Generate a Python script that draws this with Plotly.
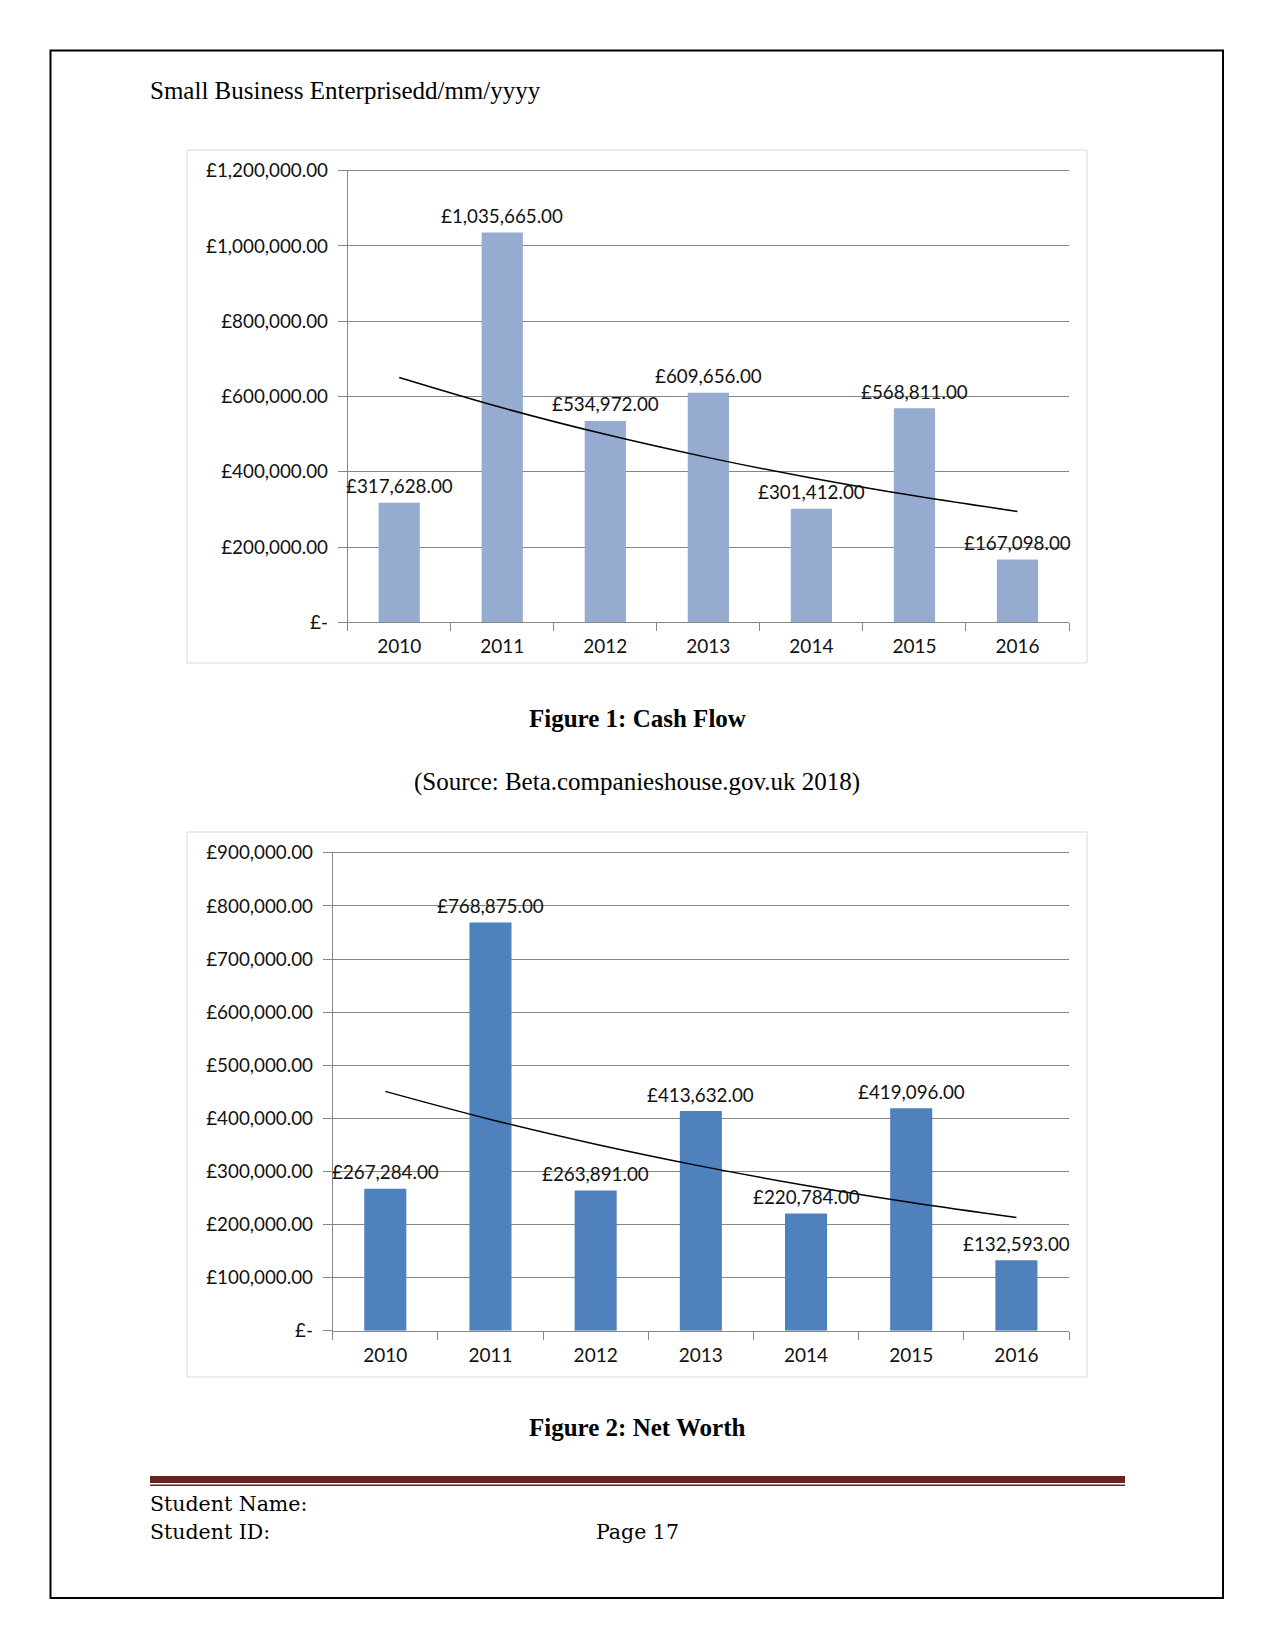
import numpy as np
import plotly.graph_objects as go

# ---------------- data ----------------
years = ["2010", "2011", "2012", "2013", "2014", "2015", "2016"]
cash_flow = [317628, 1035665, 534972, 609656, 301412, 568811, 167098]
net_worth = [267284, 768875, 263891, 413632, 220784, 419096, 132593]

cf_ticks = [0, 200000, 400000, 600000, 800000, 1000000, 1200000]
cf_ticktext = ["£-", "£200,000.00", "£400,000.00", "£600,000.00",
               "£800,000.00", "£1,000,000.00", "£1,200,000.00"]
nw_ticks = [0, 100000, 200000, 300000, 400000, 500000, 600000, 700000, 800000, 900000]
nw_ticktext = ["£-", "£100,000.00", "£200,000.00", "£300,000.00", "£400,000.00",
               "£500,000.00", "£600,000.00", "£700,000.00", "£800,000.00", "£900,000.00"]

W, H = 1275, 1650
OFF = 8  # browser body margin


def px(x):
    return (x - OFF) / W


def py(y):
    return 1 - (y - OFF) / H


def exp_trend(vals):
    idx = np.arange(len(vals))
    b, a = np.polyfit(idx, np.log(vals), 1)
    return list(np.exp(a + b * idx))


def money(v):
    return f"£{v:,.2f}"


CHART_FONT = "Lato"
SERIF = "Liberation Serif"
FOOT = "DejaVu Serif"
GRID = "#868686"
TXT = "#111111"
LABEL_SIZE = 18.8

fig = go.Figure()

# Chart 1 : Cash Flow
fig.add_trace(go.Bar(
    x=years, y=cash_flow, marker_color="#95ABD0", marker_line_width=0,
    xaxis="x", yaxis="y", hoverinfo="skip"))
fig.add_trace(go.Scatter(
    x=years, y=exp_trend(cash_flow), mode="lines", line=dict(color="black", width=1.5, shape="spline"),
    xaxis="x", yaxis="y", hoverinfo="skip"))

# Chart 2 : Net Worth
fig.add_trace(go.Bar(
    x=years, y=net_worth, marker_color="#4F81BD", marker_line_width=0,
    xaxis="x2", yaxis="y2", hoverinfo="skip"))
fig.add_trace(go.Scatter(
    x=years, y=exp_trend(net_worth), mode="lines", line=dict(color="black", width=1.5, shape="spline"),
    xaxis="x2", yaxis="y2", hoverinfo="skip"))

xcommon = dict(type="category", categoryorder="array", categoryarray=years,
               range=[-0.5, len(years) - 0.5],
               showline=True, linecolor=GRID, linewidth=1, ticks="outside",
               tickson="boundaries", ticklen=8, tickcolor=GRID, showgrid=False, zeroline=False,
               mirror=True, automargin=False, ticklabelstandoff=7,
               tickfont=dict(family=CHART_FONT, size=19, color=TXT), fixedrange=True)
ycommon = dict(showline=True, linecolor=GRID, linewidth=1, ticks="outside", ticklen=9, tickcolor=GRID,
               showgrid=True, gridcolor=GRID, gridwidth=1, zeroline=False, tickmode="array",
               ticklabelstandoff=6, automargin=False,
               tickfont=dict(family=CHART_FONT, size=LABEL_SIZE, color=TXT), fixedrange=True)

shapes = [
    # page border
    dict(type="rect", xref="paper", yref="paper", x0=px(50.5), x1=px(1223), y0=py(1598), y1=py(50.5),
         line=dict(color="black", width=2)),
    # chart boxes
    dict(type="rect", xref="paper", yref="paper", x0=px(187), x1=px(1087), y0=py(663), y1=py(150),
         line=dict(color="#D9D9D9", width=1)),
    dict(type="rect", xref="paper", yref="paper", x0=px(187), x1=px(1087), y0=py(1377), y1=py(832),
         line=dict(color="#D9D9D9", width=1)),
    # footer rules
    dict(type="rect", xref="paper", yref="paper", x0=px(150), x1=px(1125), y0=py(1483), y1=py(1476),
         line=dict(width=0), fillcolor="#632423"),
    dict(type="rect", xref="paper", yref="paper", x0=px(150), x1=px(1125), y0=py(1486), y1=py(1484.5),
         line=dict(width=0), fillcolor="#632423"),
]

annotations = [
    dict(text="Small Business Enterprisedd/mm/yyyy", x=px(148), y=py(91), xanchor="left", yanchor="middle",
         font=dict(family=SERIF, size=25, color="black")),
    dict(text="<b>Figure 1: Cash Flow</b>", x=px(637), y=py(718), xanchor="center", yanchor="middle",
         font=dict(family=SERIF, size=25, color="black")),
    dict(text="(Source: Beta.companieshouse.gov.uk 2018)", x=px(637), y=py(782), xanchor="center", yanchor="middle",
         font=dict(family=SERIF, size=25, color="black")),
    dict(text="<b>Figure 2: Net Worth</b>", x=px(637), y=py(1427), xanchor="center", yanchor="middle",
         font=dict(family=SERIF, size=25, color="black")),
    dict(text="Student Name:", x=px(148), y=py(1503.5), xanchor="left", yanchor="middle",
         font=dict(family=FOOT, size=20.5, color="black")),
    dict(text="Student ID:", x=px(148), y=py(1531.5), xanchor="left", yanchor="middle",
         font=dict(family=FOOT, size=20.5, color="black")),
    dict(text="Page 17", x=px(594), y=py(1531.5), xanchor="left", yanchor="middle",
         font=dict(family=FOOT, size=20.5, color="black")),
]
for a in annotations:
    a.update(xref="paper", yref="paper", showarrow=False)

# data labels above the bars, anchored at the data values (category index on x)
for xr, yr, vals in (("x", "y", cash_flow), ("x2", "y2", net_worth)):
    for i, v in enumerate(vals):
        annotations.append(dict(
            text=money(v), x=i, y=v, xref=xr, yref=yr, showarrow=False,
            xanchor="center", yanchor="middle", yshift=17,
            font=dict(family=CHART_FONT, size=LABEL_SIZE, color=TXT)))

fig.update_layout(
    width=W, height=H, margin=dict(l=0, r=0, t=0, b=0, pad=0, autoexpand=False),
    paper_bgcolor="white", plot_bgcolor="rgba(0,0,0,0)",
    showlegend=False, bargap=0.6,
    xaxis=dict(xcommon, domain=[px(347.7), px(1069)], anchor="y"),
    yaxis=dict(ycommon, domain=[py(622.3), py(170.7)], range=[0, 1200000], anchor="x",
               tickvals=cf_ticks, ticktext=cf_ticktext),
    xaxis2=dict(xcommon, domain=[px(332.7), px(1069)], anchor="y2"),
    yaxis2=dict(ycommon, domain=[py(1330.7), py(852.9)], range=[0, 900000], anchor="x2",
                tickvals=nw_ticks, ticktext=nw_ticktext),
    shapes=shapes, annotations=annotations,
)

fig.write_html("out.html")
